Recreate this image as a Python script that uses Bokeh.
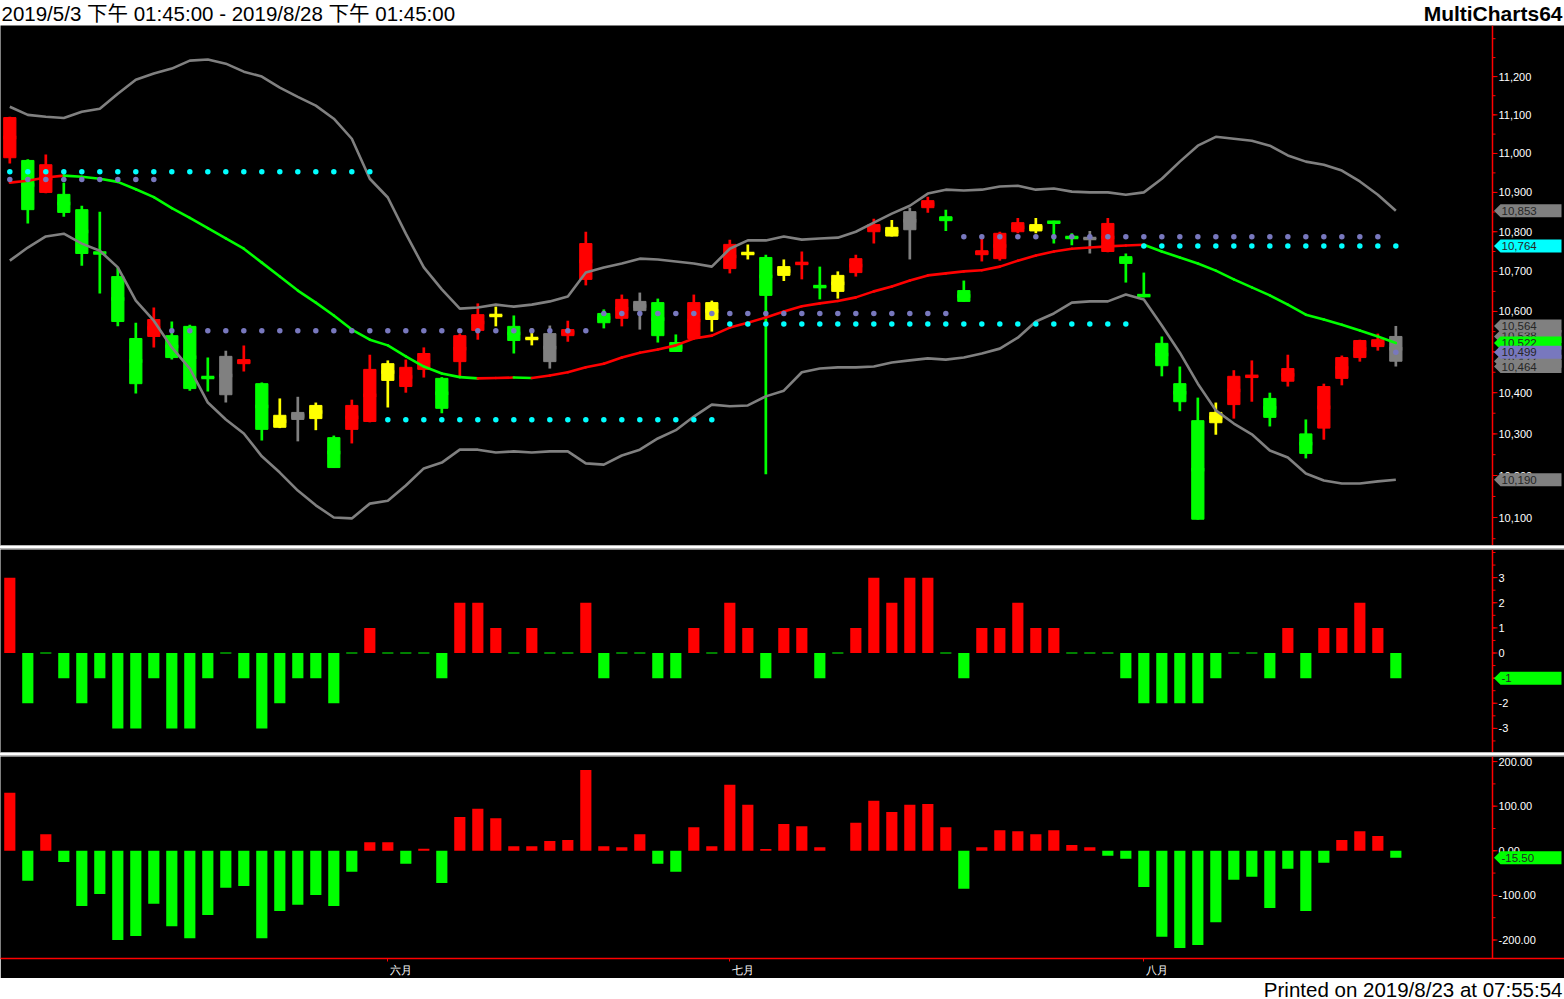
import math
from bokeh.plotting import figure
from bokeh.models import Range1d, Span, FixedTicker, Div
from bokeh.layouts import column
from bokeh.embed import file_html
from bokeh.resources import INLINE
from bokeh.core.properties import value

# ---------------- data ----------------
title_text = "2019/5/3 下午 01:45:00 - 2019/8/28 下午 01:45:00"
brand_text = "MultiCharts64"
printed_text = "Printed on 2019/8/23 at 07:55:54"

opens = [10989, 10982, 10900, 10895, 10856, 10748, 10687, 10533, 10538, 10540,
         10563, 10438, 10489, 10471, 10422, 10345, 10352, 10337, 10291, 10311,
         10330, 10471, 10415, 10457, 10435, 10476, 10553, 10591, 10563, 10534,
         10545, 10540, 10680, 10595, 10583, 10625, 10622, 10523, 10533, 10622,
         10707, 10747, 10735, 10712, 10718, 10664, 10690, 10697, 10800, 10811,
         10851, 10861, 10838, 10652, 10742, 10732, 10800, 10818, 10826, 10787,
         10784, 10750, 10737, 10642, 10521, 10422, 10332, 10352, 10371, 10438,
         10386, 10428, 10300, 10314, 10435, 10486, 10513, 10538]
highs = [11095, 10985, 10997, 10925, 10866, 10851, 10710, 10572, 10610, 10575,
         10567, 10486, 10503, 10516, 10425, 10386, 10390, 10376, 10296, 10383,
         10493, 10479, 10481, 10511, 10438, 10545, 10620, 10612, 10590, 10558,
         10565, 10577, 10800, 10605, 10642, 10647, 10632, 10543, 10642, 10627,
         10780, 10768, 10742, 10730, 10750, 10712, 10700, 10742, 10833, 10830,
         10861, 10889, 10856, 10677, 10783, 10800, 10835, 10835, 10828, 10796,
         10802, 10835, 10745, 10697, 10538, 10464, 10388, 10376, 10455, 10479,
         10400, 10493, 10335, 10422, 10491, 10530, 10545, 10564]
lows = [10974, 10821, 10898, 10838, 10714, 10645, 10563, 10398, 10511, 10481,
        10405, 10403, 10376, 10452, 10284, 10314, 10282, 10309, 10218, 10277,
        10328, 10364, 10400, 10437, 10350, 10440, 10530, 10563, 10496, 10516,
        10459, 10525, 10665, 10558, 10563, 10555, 10523, 10500, 10531, 10550,
        10695, 10730, 10203, 10676, 10680, 10630, 10632, 10687, 10770, 10788,
        10730, 10848, 10802, 10624, 10725, 10727, 10796, 10796, 10770, 10766,
        10745, 10748, 10672, 10635, 10440, 10355, 10095, 10298, 10337, 10378,
        10318, 10415, 10241, 10286, 10418, 10476, 10503, 10464]
closes = [11093, 10856, 10971, 10849, 10745, 10745, 10575, 10422, 10580, 10486,
          10410, 10436, 10395, 10481, 10311, 10316, 10335, 10369, 10219, 10369,
          10457, 10430, 10462, 10496, 10362, 10540, 10592, 10589, 10528, 10532,
          10476, 10555, 10770, 10572, 10630, 10602, 10540, 10501, 10622, 10580,
          10768, 10743, 10640, 10690, 10722, 10660, 10650, 10732, 10818, 10789,
          10805, 10879, 10828, 10625, 10752, 10796, 10823, 10802, 10822, 10784,
          10782, 10821, 10720, 10637, 10466, 10378, 10096, 10327, 10440, 10442,
          10340, 10459, 10253, 10415, 10486, 10528, 10530, 10477]
# candle colour class: R red, G green, Y yellow, S grey
candle_kinds = list("RGRGGGGGRG" "GGSRGYSYGR" "RYRRGRRYGY" "SRRGRSGGRY"
                    "RYGYRGYRRY" "SRGGRRRYGG" "SRGGGGGYRR" "GRGRRRRS")

bb_upper = [11121, 11100, 11095, 11092, 11108, 11116, 11155, 11192, 11208, 11221,
            11242, 11245, 11234, 11213, 11200, 11171, 11147, 11124, 11090, 11038,
            10935, 10887, 10795, 10710, 10655, 10607, 10610, 10617, 10612, 10617,
            10625, 10637, 10697, 10710, 10720, 10732, 10730, 10725, 10720, 10712,
            10757, 10778, 10778, 10788, 10780, 10783, 10785, 10800, 10823, 10846,
            10866, 10897, 10907, 10905, 10907, 10915, 10917, 10907, 10910, 10902,
            10900, 10900, 10894, 10900, 10935, 10979, 11020, 11043, 11038, 11033,
            11020, 10995, 10979, 10971, 10956, 10928, 10894, 10853]
bb_lower = [10727, 10760, 10788, 10795, 10770, 10752, 10710, 10627, 10577, 10511,
            10459, 10376, 10335, 10301, 10246, 10207, 10164, 10129, 10100, 10098,
            10133, 10140, 10176, 10217, 10231, 10262, 10262, 10255, 10258, 10255,
            10258, 10258, 10229, 10226, 10248, 10262, 10289, 10309, 10342, 10371,
            10367, 10369, 10391, 10405, 10450, 10459, 10462, 10462, 10464, 10474,
            10479, 10484, 10481, 10486, 10496, 10508, 10535, 10575, 10595, 10622,
            10625, 10625, 10642, 10630, 10565, 10498, 10422, 10357, 10325, 10299,
            10260, 10243, 10205, 10188, 10181, 10181, 10186, 10190]
bb_mid = [10925, 10930, 10938, 10943, 10940, 10935, 10927, 10908, 10888, 10860,
          10835, 10809, 10783, 10757, 10722, 10687, 10652, 10622, 10590, 10555,
          10530, 10516, 10489, 10464, 10447, 10438, 10435, 10436, 10437, 10436,
          10442, 10450, 10462, 10471, 10486, 10498, 10506, 10516, 10533, 10540,
          10560, 10572, 10585, 10600, 10613, 10620, 10626, 10635, 10650, 10662,
          10677, 10690, 10695, 10700, 10703, 10712, 10727, 10740, 10750, 10757,
          10760, 10763, 10765, 10767, 10750, 10735, 10720, 10702, 10680, 10660,
          10640, 10617, 10592, 10580, 10567, 10553, 10538, 10522]
cyan_stop = [10953] * 21 + [10334] * 19 + [10569] * 23 + [10764] * 15
slate_stop = [10933] * 9 + [10552] * 24 + [10595] * 20 + [10787] * 24 + [10499]

osc_count = [3, -2, 0, -1, -2, -1, -3, -3, -1, -3,
             -3, -1, 0, -1, -3, -2, -1, -1, -2, 0,
             1, 0, 0, 0, -1, 2, 2, 1, 0, 1,
             0, 0, 2, -1, 0, 0, -1, -1, 1, 0,
             2, 1, -1, 1, 1, -1, 0, 1, 3, 2,
             3, 3, 0, -1, 1, 1, 2, 1, 1, 0,
             0, 0, -1, -2, -2, -2, -2, -1, 0, 0,
             -1, 1, -1, 1, 1, 2, 1, -1]
osc_value = [130, -67, 37, -25, -124, -97, -200, -191, -119, -169,
             -196, -144, -83, -79, -196, -135, -121, -99, -124, -47,
             19, 19, -29, 4.5, -72, 76, 94, 73, 10, 10,
             22, 24, 181, 10, 8, 37, -29, -47, 53, 10,
             148, 103, 4, 60, 55, 8, 0, 63, 112, 87,
             103, 105, 53, -85, 8, 46, 44, 37, 46, 13,
             8, -11, -18, -81, -193, -218, -211, -160, -65, -58,
             -128, -40, -135, -27, 24, 44, 33, -15.5]

month_ticks = [21, 40, 63]
month_labels = ["六月", "七月", "八月"]
price_ticks = [10100, 10200, 10300, 10400, 10500, 10600, 10700, 10800, 10900, 11000, 11100, 11200]
count_ticks = [-3, -2, -1, 0, 1, 2, 3]
value_ticks = [-200, -100, 0, 100, 200]

# ---------------- layout / style ----------------
RED, GREEN, YELLOW, GREY = "#FF0000", "#00FF00", "#FFFF00", "#808080"
CYAN, SLATE = "#00FFFF", "#7878BE"
COL = {"R": RED, "G": GREEN, "Y": YELLOW, "S": GREY}
FONT = "Liberation Sans, Noto Sans CJK TC"
W = 1564
X0, X1 = -0.517, 86.37
AX = 82.37
PPB = W / (X1 - X0)
H_TOP, H1, H2, H3, H_BOT = 25, 520, 203, 202, 21
Y1 = (10034, 11335)
Y2 = (-3.96, 4.12)
Y3 = (-241.5, 211.4)
LABEL_SHIFT = 0.72   # month label centre sits right of its tick

n = len(closes)
idx = list(range(n))
bar_colors = [COL[k] for k in candle_kinds]


def strip(h):
    s = figure(frame_width=W, frame_height=h, x_range=Range1d(0, W), y_range=Range1d(0, h),
               x_axis_location=None, y_axis_location=None, output_backend="svg",
               toolbar_location=None, min_border=0, outline_line_color=None,
               background_fill_color="white", border_fill_color="white")
    s.grid.visible = False
    return s


def panel(fh, yr, log=False, xaxis=False):
    p = figure(frame_width=W, frame_height=fh, x_range=Range1d(X0, X1), y_range=Range1d(*yr),
               y_axis_type="log" if log else "linear",
               x_axis_location="below" if xaxis else None, y_axis_location=None,
               output_backend="svg", toolbar_location=None, min_border=0,
               background_fill_color="black", border_fill_color="black", outline_line_color=None)
    p.grid.visible = False
    return p


def right_axis(p, majors, labels, minors):
    p.add_layout(Span(location=AX, dimension="height", line_color=RED, line_width=1.5))
    p.ray(x=[AX] * len(minors), y=minors, length=3, angle=0, length_units="screen",
          line_color=RED, line_width=1)
    p.ray(x=[AX] * len(majors), y=majors, length=5, angle=0, length_units="screen",
          line_color=RED, line_width=1)
    p.text(x=[AX] * len(majors), y=majors, text=labels, x_offset=6, text_baseline="middle",
           text_align="left", text_color="white", text_font=value(FONT), text_font_size="11px")


def markers(p, vals, fills, texts, dy):
    for v, f, t in zip(vals, fills, texts):
        xs = [AX + 1.5 / PPB, AX + 8 / PPB, AX + 69 / PPB, AX + 69 / PPB, AX + 8 / PPB]
        ys = [v, dy(v, 6.5), dy(v, 6.5), dy(v, -6.5), dy(v, -6.5)]
        p.patch(xs, ys, fill_color=f, line_color=None)
        p.text(x=[AX + 9 / PPB], y=[v], text=[t], text_baseline="middle", text_align="left",
               text_color="#262626", text_font=value(FONT), text_font_size="11.5px")


def dy_log(v, px):
    return v * math.exp(px * math.log(Y1[1] / Y1[0]) / H1)


def dy_lin(rng, h):
    return lambda v, px: v + px * (rng[1] - rng[0]) / h


# ---------------- title strip ----------------
top = strip(H_TOP)
top.text(x=[1], y=[H_TOP / 2], text=[title_text], text_baseline="middle", text_align="left",
         text_color="black", text_font=value(FONT), text_font_size="20.5px")
top.text(x=[W - 2], y=[H_TOP / 2], text=[brand_text], text_baseline="middle", text_align="right",
         text_color="black", text_font=value(FONT), text_font_size="21px", text_font_style="bold")

# ---------------- price panel ----------------
p1 = panel(H1, Y1, log=True)
body_top = [max(o, c) for o, c in zip(opens, closes)]
body_bot = [min(o, c) for o, c in zip(opens, closes)]
body_mid = [(o + c) / 2 for o, c in zip(opens, closes)]
p1.segment(x0=idx, y0=lows, x1=idx, y1=highs, line_color=bar_colors, line_width=2.7)
p1.vbar(x=idx, width=0.68, top=body_top, bottom=body_bot, fill_color=bar_colors,
        line_color=bar_colors, line_width=1)
p1.rect(x=idx, y=body_mid, width=0.72, height=3.5, height_units="screen",
        fill_color=bar_colors, line_color=None)
p1.line(idx, bb_upper, line_color=GREY, line_width=2.6)
p1.line(idx, bb_lower, line_color=GREY, line_width=2.6)
mid_cols = [RED if bb_mid[i + 1] >= bb_mid[i] else GREEN for i in range(n - 1)]
p1.segment(x0=idx[:-1], y0=bb_mid[:-1], x1=idx[1:], y1=bb_mid[1:], line_color=mid_cols,
           line_width=2.6, line_cap="round")
p1.scatter(idx, slate_stop, size=5.5, marker="circle", fill_color=SLATE, line_color=None)
p1.scatter(idx, cyan_stop, size=5.5, marker="circle", fill_color=CYAN, line_color=None)
minor1 = list(range(10050, 11301, 50))
right_axis(p1, price_ticks, [f"{v:,}" for v in price_ticks], minor1)
m_vals = [bb_upper[-1], cyan_stop[-1], bb_lower[-1], opens[-1], closes[-1], highs[-1], lows[-1],
          bb_mid[-1], slate_stop[-1]]
m_fill = [GREY, CYAN, GREY, GREY, GREY, GREY, GREY, GREEN, SLATE]
markers(p1, m_vals, m_fill, [f"{v:,}" for v in m_vals], dy_log)

# ---------------- count oscillator ----------------
p2 = panel(H2, Y2)
c2 = [RED if v > 0 else GREEN for v in osc_count]
p2.vbar(x=idx, width=0.62, top=osc_count, bottom=0, fill_color=c2, line_color=None)
zero_idx = [i for i in idx if osc_count[i] == 0]
p2.segment(x0=[i - 0.31 for i in zero_idx], y0=[0] * len(zero_idx),
           x1=[i + 0.31 for i in zero_idx], y1=[0] * len(zero_idx), line_color=GREEN, line_width=1)
right_axis(p2, count_ticks, [str(v) for v in count_ticks], [k / 2 for k in range(-8, 9)])
last2 = osc_count[-1]
markers(p2, [last2], [RED if last2 > 0 else GREEN], [str(last2)], dy_lin(Y2, H2))

# ---------------- value oscillator ----------------
p3 = panel(H3, Y3, xaxis=True)
c3 = [RED if v > 0 else GREEN for v in osc_value]
p3.vbar(x=idx, width=0.62, top=osc_value, bottom=0, fill_color=c3, line_color=None)
right_axis(p3, value_ticks, [f"{v:.2f}" for v in value_ticks], list(range(-250, 201, 50)))
last3 = osc_value[-1]
markers(p3, [last3], [RED if last3 > 0 else GREEN], [f"{last3:.2f}"], dy_lin(Y3, H3))

# month axis: red tick marks (minor ticks) at month starts, names just right of them
label_pos = [t + LABEL_SHIFT for t in month_ticks]
xa = p3.xaxis[0]
xa.ticker = FixedTicker(ticks=label_pos, minor_ticks=month_ticks)
xa.major_label_overrides = {p: l for p, l in zip(label_pos, month_labels)}
xa.axis_line_color = RED
xa.axis_line_width = 1.5
xa.major_tick_line_color = None
xa.major_tick_in = 0
xa.major_tick_out = 0
xa.minor_tick_line_color = RED
xa.minor_tick_in = 0
xa.minor_tick_out = 3
xa.major_label_standoff = 2
xa.major_label_text_color = "white"
xa.major_label_text_font = "Liberation Sans"
xa.major_label_text_font_size = "11px"

# ---------------- bottom strip ----------------
bot = strip(H_BOT)
bot.text(x=[W - 2], y=[H_BOT / 2], text=[printed_text], text_baseline="middle", text_align="right",
         text_color="black", text_font=value(FONT), text_font_size="20.5px")


def separator():
    return Div(text="", width=W, height=4, margin=(0, 0, 0, 0),
               styles={"background": "linear-gradient(#8c8c8c, #ffffff 35%, #ffffff 65%, #8c8c8c)"})


layout = column(top, p1, separator(), p2, separator(), p3, bot, spacing=0)
open("out.html", "w").write(file_html(layout, INLINE, title="MultiCharts64"))
